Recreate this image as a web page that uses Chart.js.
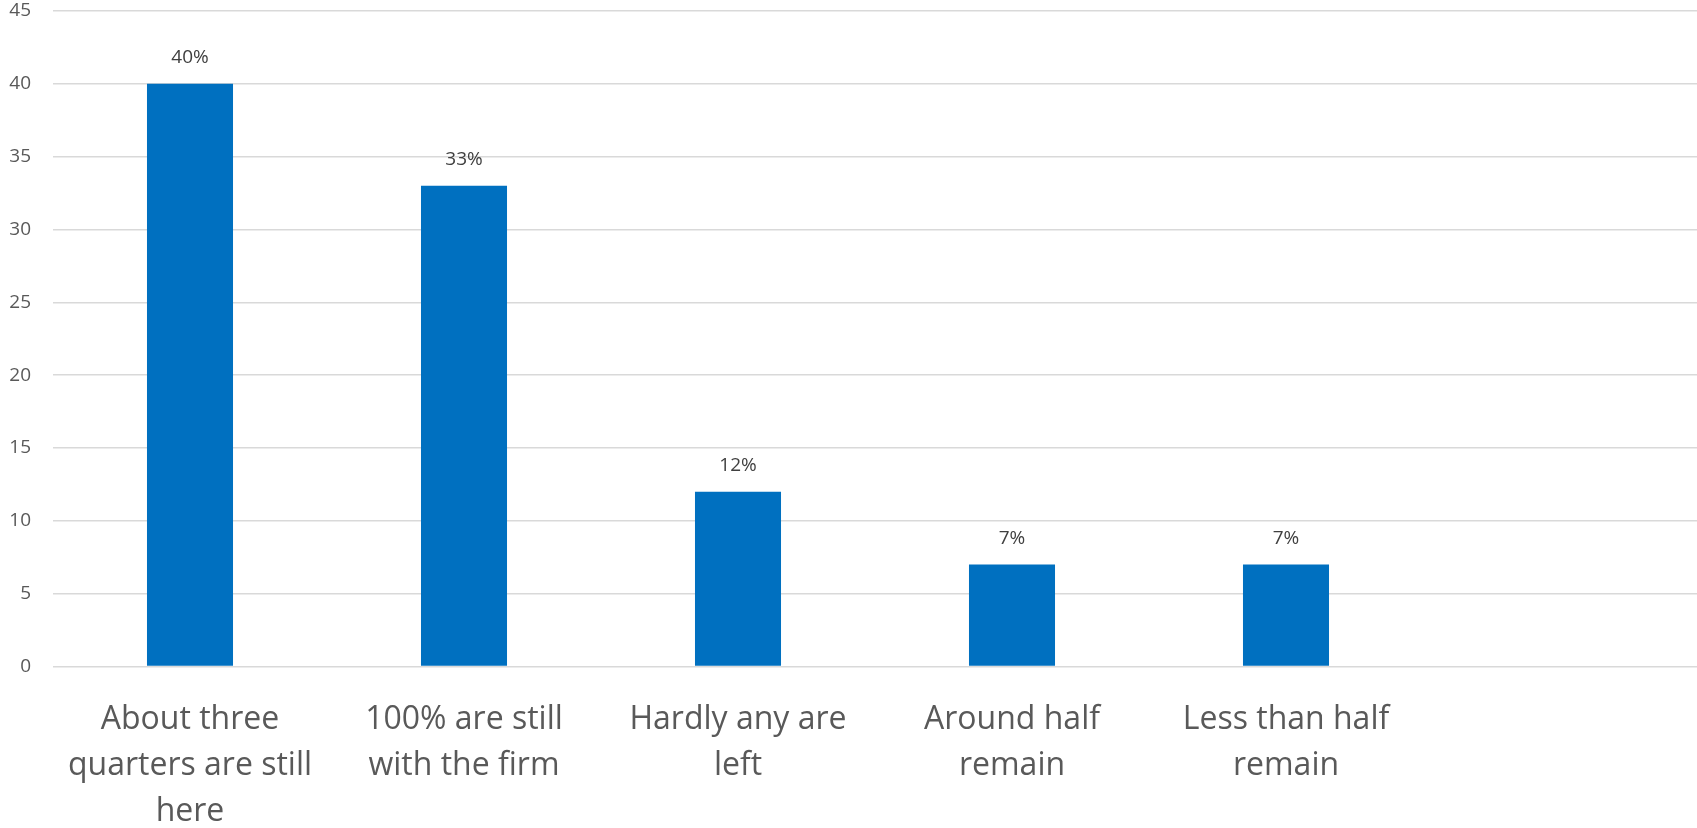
<!DOCTYPE html>
<html>
<head>
<meta charset="utf-8">
<script src="https://cdn.jsdelivr.net/npm/chart.js@4/dist/chart.umd.min.js"></script>
<style>
  html, body { margin: 0; padding: 0; background: #fff; overflow: hidden; }
  #wrap { width: 1697px; height: 828px; }
</style>
</head>
<body>
<div id="wrap"><canvas id="chart"></canvas></div>
<script>
// categories (multi-line labels), the last slot is empty in the original
const categories = [
  ["About three", "quarters are still", "here"],
  ["100% are still", "with the firm"],
  ["Hardly any are", "left"],
  ["Around half", "remain"],
  ["Less than half", "remain"],
  ""
];
const values = [40, 33, 12, 7, 7, null];
const valueLabels = ["40%", "33%", "12%", "7%", "7%", ""];
const yTicks = [0, 5, 10, 15, 20, 25, 30, 35, 40, 45];

// draws the % labels above each bar
const barLabels = {
  id: "barLabels",
  afterDatasetsDraw(chart) {
    const ctx = chart.ctx;
    const meta = chart.getDatasetMeta(0);
    ctx.save();
    ctx.font = "19px 'Open Sans'";
    ctx.fillStyle = "#404040";
    ctx.textAlign = "center";
    ctx.textBaseline = "middle";
    meta.data.forEach((bar, i) => {
      if (values[i] == null) return;
      ctx.fillText(valueLabels[i], bar.x, bar.y - 26);
    });
    ctx.restore();
  }
};

// no extra padding from the axes, layout decides
function noPad(s) {
  s.paddingTop = 0;
  s.paddingBottom = 0;
  s.paddingLeft = 0;
  s.paddingRight = 0;
}

new Chart(document.getElementById("chart"), {
  type: "bar",
  data: {
    labels: categories,
    datasets: [{
      data: values,
      backgroundColor: "#0070C0",
      categoryPercentage: 1,
      barPercentage: 0.314
    }]
  },
  options: {
    responsive: true,
    maintainAspectRatio: false,
    animation: false,
    layout: { padding: { top: 11, left: 0, right: 0, bottom: 0 } },
    plugins: { legend: { display: false }, tooltip: { enabled: false } },
    scales: {
      x: {
        grid: { display: false },
        border: { display: false },
        ticks: {
          color: "#595959",
          font: { family: "'Open Sans'", size: 32, lineHeight: 1.44 },
          maxRotation: 0,
          autoSkip: false,
          padding: 22
        },
        afterFit: s => { s.height = 161.5; noPad(s); }
      },
      y: {
        min: 0,
        max: 45,
        afterBuildTicks: axis => { axis.ticks = yTicks.map(v => ({ value: v })); },
        grid: { color: "#d9d9d9", lineWidth: 1.5, drawTicks: false },
        border: { display: false },
        ticks: {
          color: "#595959",
          font: { family: "'Open Sans'", size: 19 },
          padding: 22
        },
        afterFit: s => { s.width = 53; noPad(s); }
      }
    }
  },
  plugins: [barLabels]
});
</script>
</body>
</html>
